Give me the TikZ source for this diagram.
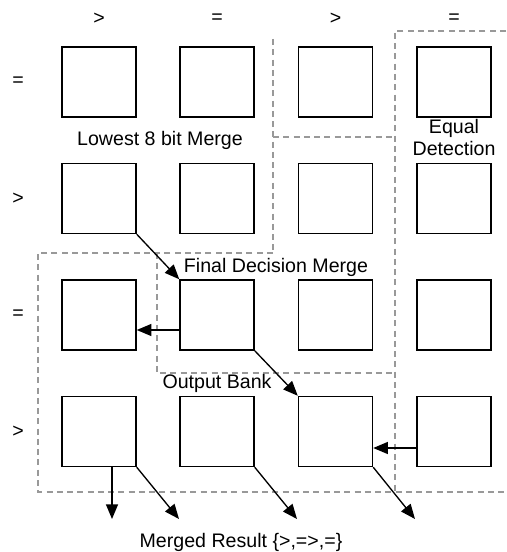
\documentclass[tikz,border=0pt]{standalone}
\usepackage{fontspec}
\setmainfont{Liberation Sans}
\usetikzlibrary{arrows.meta,calc}
\tikzset{
  cell/.style={draw, line width=1.1pt, minimum width=55.5pt, minimum height=52.5pt, inner sep=0pt},
  lbl/.style={font=\fontsize{14.7}{17.5}\selectfont, inner sep=0pt, align=center},
  flow/.style={line width=1pt, -{Triangle[length=11pt,width=9pt]}},
  region/.style={draw=black!40, line width=0.8pt, dash pattern=on 4.5pt off 3.2pt}
}
\begin{document}
\begin{tikzpicture}[x=0.75pt,y=-0.75pt]
\useasboundingbox (0,0) rectangle (506,552);

% dashed region outlines
\draw[region] (273,39) -- (273,253);
\draw[region] (273,137) -- (395,137);
\draw[region] (506,31) -- (395,31) -- (395,492);
\draw[region] (273,253) -- (38,253) -- (38,492) -- (506,492);
\draw[region] (157,253) -- (157,373) -- (395,373);

% column and row headers
\node[lbl] (c1) at (99,19) {>};
\node[lbl] (c2) at (217,19) {=};
\node[lbl] (c3) at (335.5,19) {>};
\node[lbl] (c4) at (454,19) {=};
\node[lbl] (r1) at (18,82) {=};
\node[lbl] (r2) at (18,198.5) {>};
\node[lbl] (r3) at (18,315) {=};
\node[lbl] (r4) at (18,431.5) {>};

% grid of cells
\foreach \r/\y in {1/82,2/198.5,3/315,4/431.5}
  \foreach \c/\x in {1/99,2/217,3/335.5,4/454}
    \node[cell] (b\r\c) at (\x,\y) {};

% region captions
\node[lbl] (t1) at (160,140) {Lowest 8 bit Merge};
\node[lbl] (t2) at (454,137) {Equal\\[-1pt]Detection};
\node[lbl] (t3) at (276,267) {Final Decision Merge};
\node[lbl] (t4) at (217,383) {Output Bank};
\node[lbl] (t5) at (241,542) {Merged Result \{>,=>,=\}};

% data flow
\draw[flow] (b21.south east) -- (b32.north west);
\draw[flow] ($(b32.west)+(0,15)$) -- ($(b31.east)+(0,15)$);
\draw[flow] (b32.south east) -- (b43.north west);
\draw[flow] ($(b44.west)+(0,16.5)$) -- ($(b43.east)+(0,16.5)$);

\coordinate (o1) at (112,519);
\coordinate (o2) at (179,519);
\coordinate (o3) at (297,519);
\coordinate (o4) at (415,519);
\draw[flow] ($(b41.south)+(13,0)$) -- (o1);
\draw[flow] (b41.south east) -- (o2);
\draw[flow] (b42.south east) -- (o3);
\draw[flow] (b43.south east) -- (o4);
\end{tikzpicture}
\end{document}
